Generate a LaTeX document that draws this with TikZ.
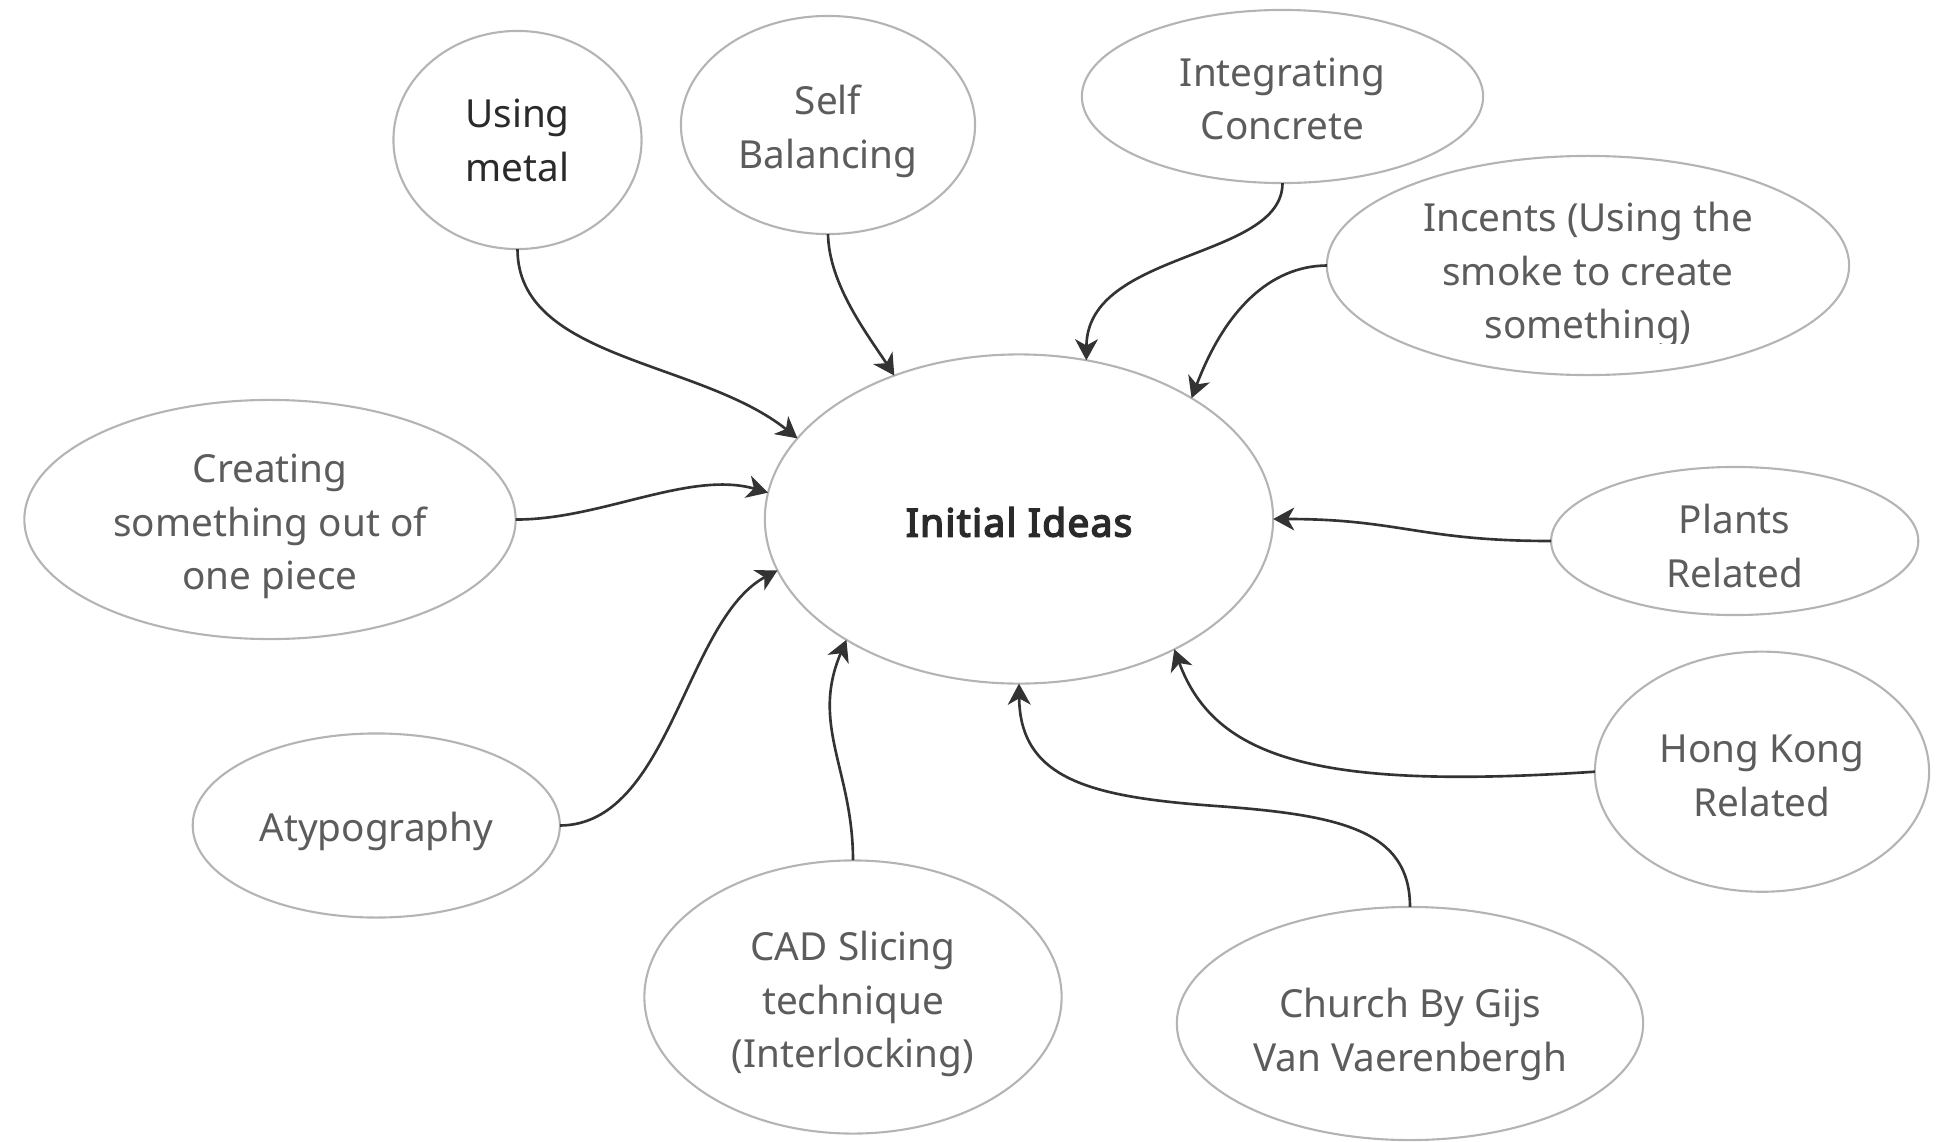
\documentclass[tikz,border=0pt]{standalone}
\usepackage{fontspec}
\setmainfont{Noto Sans}
\newfontfamily\headfont{Noto Sans}[FakeBold=4,LetterSpace=3.5]
\usetikzlibrary{shapes.geometric,arrows.meta}
\definecolor{rim}{HTML}{B4B4B4}
\definecolor{ink}{HTML}{5C5C5C}
\definecolor{inkdark}{HTML}{2A2A2A}
\definecolor{wire}{HTML}{333333}

\begin{document}
\begin{tikzpicture}[x=0.01cm,y=-0.01cm,
  idea/.style={ellipse, draw=rim, line width=0.6pt, inner sep=0pt, outer sep=0pt},
  lbl/.style={align=center, text=ink, font=\fontsize{11}{15.3}\selectfont, inner sep=0pt},
  link/.style={draw=wire, line width=0.75pt, -{Stealth[length=6pt,width=6.5pt,inset=1.8pt]}}]
\useasboundingbox (0,0) rectangle (1941,1142);

% central topic
\node[idea, minimum width=5.08cm, minimum height=3.29cm] (init) at (1019,519) {};
\node[lbl, text=inkdark, font=\fontsize{11}{15.3}\headfont] (initT) at (1019,522) {Initial Ideas};

% surrounding ideas
\node[idea, minimum width=2.48cm, minimum height=2.18cm] (metal) at (517.5,140) {};
\node[lbl, text=inkdark] (metalT) at (517.5,140.5) {Using\\metal};

\node[idea, minimum width=2.94cm, minimum height=2.18cm] (self) at (828,125) {};
\node[lbl] (selfT) at (828,131) {Self\\Balancing};

\node[idea, minimum width=4.01cm, minimum height=1.73cm] (integ) at (1282.5,96.5) {};
\node[lbl] (integT) at (1282.5,99) {Integrating\\Concrete};

\node[idea, minimum width=5.22cm, minimum height=2.19cm] (incents) at (1588,265.5) {};
\begin{scope}
  \clip (1330,150) rectangle (1850,343);
  \node[lbl] (incentsT) at (1588,275) {Incents (Using the\\smoke to create\\something)};
\end{scope}

\node[idea, minimum width=4.91cm, minimum height=2.39cm] (creating) at (270,519.5) {};
\node[lbl] (creatingT) at (270,526.5) {Creating\\something out of\\one piece};

\node[idea, minimum width=3.67cm, minimum height=1.48cm] (plants) at (1734.7,541) {};
\node[lbl] (plantsT) at (1734.7,546) {Plants\\Related};

\node[idea, minimum width=3.67cm, minimum height=1.84cm] (atyp) at (376.3,825.5) {};
\node[lbl] (atypT) at (376.3,831) {Atypography};

\node[idea, minimum width=3.34cm, minimum height=2.40cm] (hk) at (1762,771.7) {};
\node[lbl] (hkT) at (1762,775.5) {Hong Kong\\Related};

\node[idea, minimum width=4.17cm, minimum height=2.73cm] (cad) at (853,997) {};
\node[lbl] (cadT) at (853,1004) {CAD Slicing\\technique\\(Interlocking)};

\node[idea, minimum width=4.66cm, minimum height=2.33cm] (church) at (1410,1023.5) {};
\node[lbl] (churchT) at (1410,1034.5) {Church By Gijs\\Van Vaerenbergh};

% connectors into the central topic
\draw[link] (metal.south) .. controls (517.5,360) and (700,360) .. (init.160);
\draw[link] (self.south) .. controls (829,285) and (868,335) .. (init.131);
\draw[link] (integ.south) .. controls (1282.5,260) and (1087,250) .. (init.67);
\draw[link] (incents.west) .. controls (1270,266) and (1225,310) .. (init.35);
\draw[link] (creating.east) .. controls (600,520) and (690,470) .. (init.174);
\draw[link] (atyp.east) .. controls (670,825) and (685,620) .. (init.192);
\draw[link] (cad.north) .. controls (853,770) and (810,725) .. (init.215);
\coordinate (churchbend) at (1216,806);
\draw[link] (church.north) .. controls (1410,830) and (1340,815) .. (churchbend)
            .. controls (1092,797) and (1020,780) .. (init.270);
\draw[link] (hk.west) .. controls (1320,790) and (1215,760) .. (init.320);
\draw[link] (plants.west) .. controls (1420,541) and (1400,519) .. (init.0);
\end{tikzpicture}
\end{document}
